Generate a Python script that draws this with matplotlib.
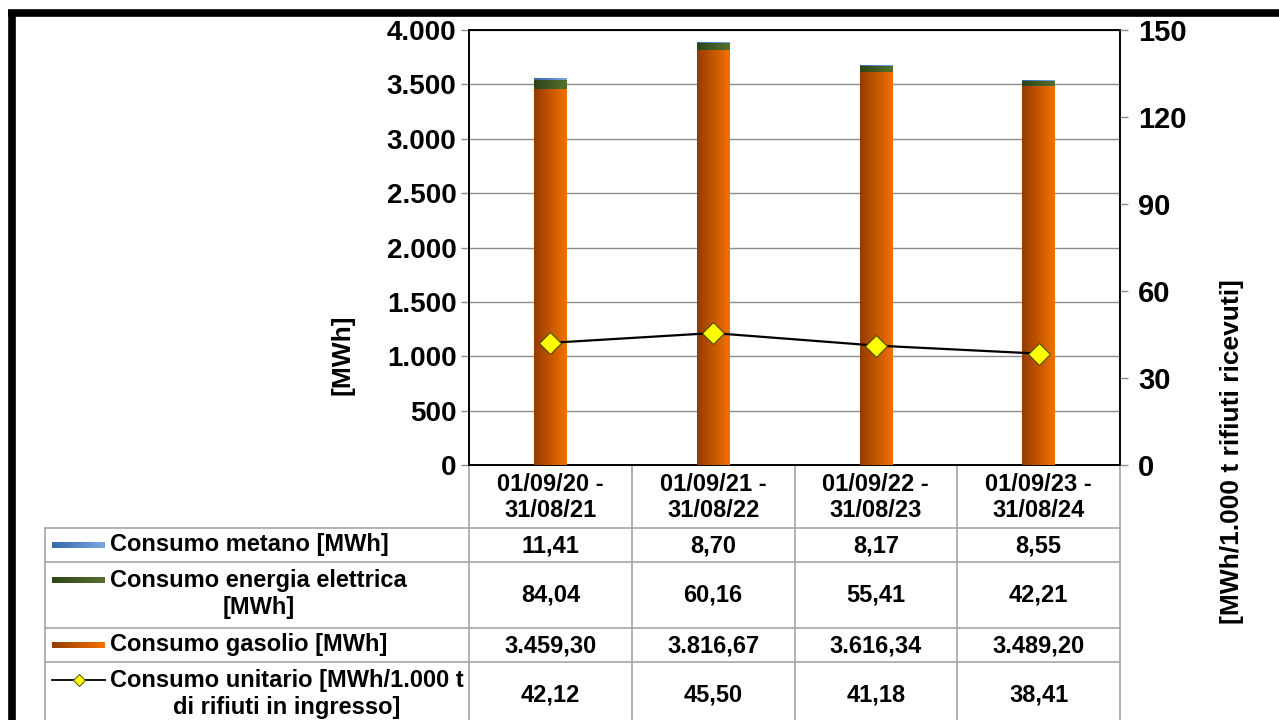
"""Consumi energetici: barre impilate con tabella dati sotto (stile Excel)."""

import matplotlib

matplotlib.use("Agg")
import matplotlib.pyplot as plt
import numpy as np
from matplotlib.colors import LinearSegmentedColormap
from matplotlib.patches import Rectangle
from matplotlib.ticker import FuncFormatter, MultipleLocator

periods = [
    "01/09/20 -\n31/08/21",
    "01/09/21 -\n31/08/22",
    "01/09/22 -\n31/08/23",
    "01/09/23 -\n31/08/24",
]
gasolio = [3459.30, 3816.67, 3616.34, 3489.20]
elettrica = [84.04, 60.16, 55.41, 42.21]
metano = [11.41, 8.70, 8.17, 8.55]
unitario = [42.12, 45.50, 41.18, 38.41]

row_labels = [
    "Consumo metano [MWh]",
    "Consumo energia elettrica\n[MWh]",
    "Consumo gasolio [MWh]",
    "Consumo unitario [MWh/1.000 t\ndi rifiuti in ingresso]",
]

W, H = 1279, 720
FONT = "Liberation Sans"
GRID = "#8c8c8c"
TABLE_LINE = "#a6a6a6"

ORANGE = ("#943c00", "#f47000")
GREEN = ("#2c4519", "#56702e")
BLUE = ("#3768a8", "#79a8e0")


def it_int(value, _pos=None):
    return f"{value:,.0f}".replace(",", ".")


def it_dec(value):
    return f"{value:,.2f}".replace(",", "X").replace(".", ",").replace("X", ".")


def paint_gradient(ax, patch, colors):
    cmap = LinearSegmentedColormap.from_list("grad", list(colors))
    x0, y0 = patch.get_x(), patch.get_y()
    w, h = patch.get_width(), patch.get_height()
    img = ax.imshow(
        np.linspace(0, 1, 64).reshape(1, -1),
        cmap=cmap,
        aspect="auto",
        extent=(x0, x0 + w, y0, y0 + h),
        zorder=patch.get_zorder(),
        interpolation="bilinear",
    )
    img.set_clip_path(patch)
    patch.set_facecolor("none")


fig = plt.figure(figsize=(W / 100, H / 100), dpi=100)
fig.patch.set_facecolor("white")

ax_left, ax_right, ax_top, ax_bottom = 469, 1120, 30, 465
ax = fig.add_axes([ax_left / W, 1 - ax_bottom / H, (ax_right - ax_left) / W, (ax_bottom - ax_top) / H])
ax.set_zorder(2)

x = np.arange(len(periods))
width = 0.2
bottom_el = np.array(gasolio)
bottom_me = bottom_el + np.array(elettrica)

bars_g = ax.bar(x, gasolio, width, color="none", linewidth=0, zorder=3)
bars_e = ax.bar(x, elettrica, width, bottom=bottom_el, color="none", linewidth=0, zorder=3)
bars_m = ax.bar(x, metano, width, bottom=bottom_me, color="none", linewidth=0, zorder=3)
for group, colors in ((bars_g, ORANGE), (bars_e, GREEN), (bars_m, BLUE)):
    for patch in group:
        paint_gradient(ax, patch, colors)

ax.set_xlim(-0.5, len(periods) - 0.5)
ax.set_ylim(0, 4000)
ax.yaxis.set_major_locator(MultipleLocator(500))
ax.yaxis.set_major_formatter(FuncFormatter(it_int))
ax.set_xticks([])
ax.grid(axis="y", color=GRID, linewidth=1)
ax.set_axisbelow(True)
ax.tick_params(axis="y", direction="out", length=6, width=1, color=GRID, labelsize=20, pad=3)
for spine in ax.spines.values():
    spine.set_color("black")
    spine.set_linewidth(1.4)

ax2 = ax.twinx()
ax2.plot(
    x, unitario, color="black", linewidth=1.6,
    marker="D", markersize=11, markerfacecolor="#ffff00", markeredgecolor="#4d4d00",
    markeredgewidth=0.8, zorder=5,
)
ax2.set_ylim(0, 150)
ax2.yaxis.set_major_locator(MultipleLocator(30))
ax2.tick_params(axis="y", direction="out", length=6, width=1, color=GRID, labelsize=21, pad=7)
for spine in ax2.spines.values():
    spine.set_visible(False)

for label in ax.get_yticklabels() + ax2.get_yticklabels():
    label.set_fontfamily(FONT)
    label.set_fontweight("bold")

# overlay in pixel coordinates for the data table and frame
tab = fig.add_axes([0, 0, 1, 1])
tab.set_xlim(0, W)
tab.set_ylim(H, 0)
tab.axis("off")
tab.set_zorder(1)

col_w = (ax_right - ax_left) / len(periods)
col_edges = [ax_left + i * col_w for i in range(len(periods) + 1)]
row_edges = [465, 528, 562, 628, 662, 760]
head_left = 45

for xe in col_edges:
    tab.plot([xe, xe], [row_edges[0], H], color=TABLE_LINE, linewidth=1.2)
tab.plot([head_left, head_left], [row_edges[1], H], color=TABLE_LINE, linewidth=1.2)
for ye in row_edges[1:5]:
    tab.plot([head_left, ax_right], [ye, ye], color=TABLE_LINE, linewidth=1.2)

text_kw = dict(fontfamily=FONT, fontweight="bold", fontsize=17, color="black")

for i, period in enumerate(periods):
    cx = (col_edges[i] + col_edges[i + 1]) / 2
    tab.text(cx, (row_edges[0] + row_edges[1]) / 2 + 1, period, ha="center", va="center",
             linespacing=1.2, **text_kw)

series_rows = [metano, elettrica, gasolio, unitario]
row_centers = [545, 594, 645, 694]
key_y = [545, 580, 645, 680]
for r, (label, values) in enumerate(zip(row_labels, series_rows)):
    tab.text(110, row_centers[r], label, ha="left", va="center", multialignment="center",
             linespacing=1.2, **text_kw)
    for i, value in enumerate(values):
        cx = (col_edges[i] + col_edges[i + 1]) / 2
        tab.text(cx, row_centers[r] + 1, it_dec(value), ha="center", va="center", **text_kw)

for r, colors in zip(range(3), (BLUE, GREEN, ORANGE)):
    key = Rectangle((52, key_y[r] - 3.5), 53, 7, facecolor="none", linewidth=0)
    tab.add_patch(key)
    paint_gradient(tab, key, colors)
tab.plot([52, 105], [key_y[3], key_y[3]], color="black", linewidth=1.3)
tab.plot([78.5], [key_y[3]], marker="D", markersize=6.5, markerfacecolor="#ffff00",
         markeredgecolor="#4d4d00", markeredgewidth=0.7)
tab.set_xlim(0, W)
tab.set_ylim(H, 0)

# outer frame (top and left only)
tab.plot([8, W], [13, 13], color="black", linewidth=5.5, solid_capstyle="butt")
tab.plot([12, 12], [10, H], color="black", linewidth=5.5, solid_capstyle="butt")

fig.text(343 / W, 1 - 355 / H, "[MWh]", rotation=90, ha="center", va="center",
         fontfamily=FONT, fontweight="bold", fontsize=19)
fig.text(1232 / W, 1 - 452 / H, "[MWh/1.000 t rifiuti ricevuti]", rotation=90,
         ha="center", va="center", fontfamily=FONT, fontweight="bold", fontsize=19)

fig.savefig("out.png", dpi=100, facecolor="white")
